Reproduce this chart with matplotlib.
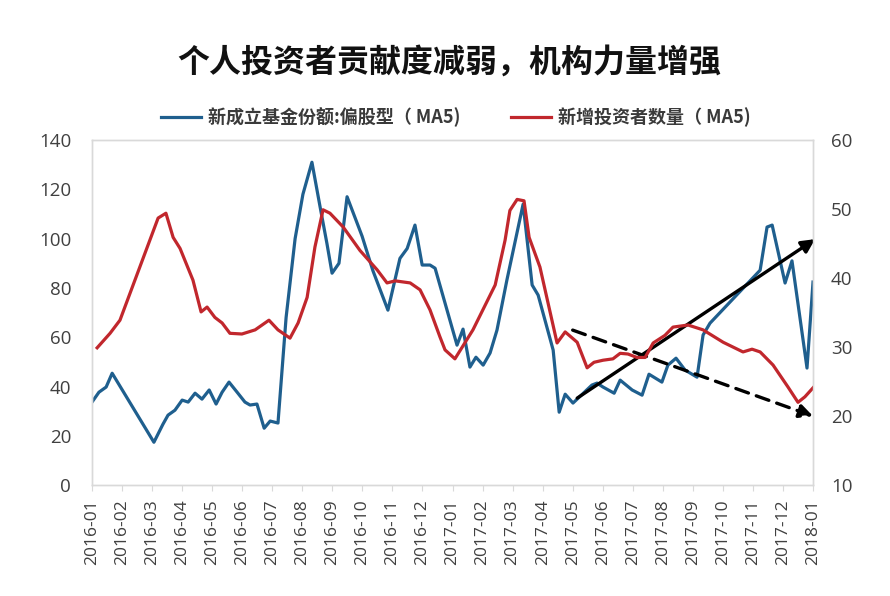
import matplotlib
matplotlib.use("Agg")
import matplotlib.pyplot as plt

plt.rcParams['font.family'] = ['Noto Sans CJK SC', 'DejaVu Sans']

title = "个人投资者贡献度减弱，机构力量增强"
blue_label = "新成立基金份额:偏股型（ MA5)"
red_label = "新增投资者数量（ MA5)"

month_labels = ["2016-01", "2016-02", "2016-03", "2016-04", "2016-05", "2016-06",
                "2016-07", "2016-08", "2016-09", "2016-10", "2016-11", "2016-12",
                "2017-01", "2017-02", "2017-03", "2017-04", "2017-05", "2017-06",
                "2017-07", "2017-08", "2017-09", "2017-10", "2017-11", "2017-12",
                "2018-01"]

# time in months since 2016-01 (fractional)
blue_t = [0.00, 0.23, 0.47, 0.67, 2.06, 2.36, 2.53, 2.76, 3.00, 3.20, 3.43, 3.66,
          3.90, 4.13, 4.33, 4.56, 4.83, 5.09, 5.26, 5.49, 5.73, 5.93, 6.19, 6.46,
          6.76, 7.02, 7.32, 7.59, 7.82, 7.99, 8.22, 8.49, 8.99, 9.35, 9.85, 10.25,
          10.49, 10.75, 10.99, 11.25, 11.42, 12.15, 12.35, 12.58, 12.78, 13.02,
          13.25, 13.48, 13.81, 14.35, 14.65, 14.85, 15.35, 15.55, 15.75, 16.01,
          16.64, 16.81, 17.01, 17.38, 17.58, 17.98, 18.31, 18.54, 18.97, 19.17,
          19.44, 19.74, 20.14, 20.34, 20.57, 22.24, 22.47, 22.64, 23.07, 23.30,
          23.80, 24.00]
blue_v = [33.7, 37.7, 39.8, 45.4, 17.4, 24.7, 28.4, 30.4, 34.5, 33.7, 37.3, 34.9,
          38.6, 32.9, 37.7, 41.8, 37.7, 33.7, 32.5, 32.9, 23.1, 26.0, 25.2, 68.0,
          100.0, 118.0, 131.0, 113.0, 98.0, 86.0, 90.0, 117.0, 101.0, 87.0, 71.0, 92.0,
          96.0, 105.5, 89.3, 89.3, 88.0, 56.8, 63.3, 47.9, 51.9, 48.7,
          53.6, 62.9, 83.2, 114.0, 81.2, 77.1, 54.8, 29.6, 36.9, 33.3,
          40.6, 41.4, 39.8, 37.3, 42.6, 38.6, 36.5, 45.0, 41.8, 48.7,
          51.5, 46.7, 43.8, 60.9, 65.7, 87.2, 104.7, 105.5, 82.0, 91.0,
          47.5, 82.4]

red_t = [0.17, 0.60, 0.93, 2.20, 2.46, 2.70, 2.93, 3.36, 3.63, 3.83, 4.09, 4.33,
         4.59, 4.99, 5.43, 5.89, 6.19, 6.59, 6.86, 7.16, 7.42, 7.69, 7.92, 8.36,
         8.92, 9.49, 9.82, 10.09, 10.59, 10.92, 11.25, 11.58, 11.75, 12.08, 12.68,
         13.42, 13.75, 13.91, 14.15, 14.38, 14.55, 14.91, 15.48, 15.75, 16.15,
         16.48, 16.71, 17.01, 17.34, 17.58, 17.84, 18.14, 18.41, 18.68, 19.07,
         19.34, 19.84, 20.34, 21.01, 21.67, 21.97, 22.24, 22.67, 23.17, 23.50,
         23.73, 24.00]
red_v = [29.9, 32.0, 33.9, 48.7, 49.4, 45.9, 44.3, 39.7, 35.1, 35.8, 34.3, 33.5,
         32.0, 31.9, 32.5, 33.9, 32.5, 31.3, 33.5, 37.2, 44.5, 49.9, 49.4, 47.4,
         44.0, 41.2, 39.3, 39.6, 39.3, 38.3, 35.4, 31.5, 29.6, 28.3, 32.5,
         39.0, 45.5, 49.8, 51.4, 51.2, 45.9, 41.6, 30.6, 32.2, 30.7,
         27.0, 27.8, 28.1, 28.3, 29.1, 29.0, 28.5, 28.5, 30.6, 31.7,
         32.9, 33.2, 32.5, 30.7, 29.3, 29.7, 29.3, 27.4, 24.2, 22.0,
         22.8, 24.1]

# trend arrows (month position, left-axis value)
up_arrow = [(16.15, 35.3), (24.07, 99.8)]
down_arrow = [(16.0, 62.9), (24.0, 28.0)]

blue_c = "#1F5F8E"
red_c = "#C1272D"
tick_c = "#404040"
spine_c = "#D9D9D9"
num_font = ['Open Sans', 'DejaVu Sans']

fig = plt.figure(figsize=(8.9, 5.96), dpi=100)
ax = fig.add_axes([0.1034, 0.186, 0.8101, 0.579])
ax2 = ax.twinx()

l1, = ax.plot(blue_t, blue_v, color=blue_c, lw=2.3, solid_joinstyle='round')
l2, = ax2.plot(red_t, red_v, color=red_c, lw=2.3, solid_joinstyle='round')

ax.set_xlim(0, 24)
ax.set_ylim(0, 140)
ax.set_yticks(range(0, 141, 20))
ax2.set_ylim(10, 60)
ax2.set_yticks(range(10, 61, 10))
ax.set_xticks(range(len(month_labels)))
ax.set_xticklabels(month_labels, rotation=90, fontsize=12.5, color=tick_c,
                   family=num_font)

for a in (ax, ax2):
    for s in a.spines.values():
        s.set_color(spine_c)
        s.set_linewidth(1.0)
for lab in ax.get_yticklabels() + ax2.get_yticklabels():
    lab.set_fontsize(13.5)
    lab.set_color(tick_c)
    lab.set_family(num_font)
ax.tick_params(axis='y', length=0, pad=15)
ax2.tick_params(axis='y', length=0, pad=13)
ax.tick_params(axis='x', length=4, color=spine_c, direction='out', pad=6)

ax.annotate("", xy=up_arrow[1], xytext=up_arrow[0],
            arrowprops=dict(arrowstyle='-|>', color='black', lw=2.4,
                            mutation_scale=20, shrinkA=0, shrinkB=0),
            annotation_clip=False)
ax.annotate("", xy=down_arrow[1], xytext=down_arrow[0],
            arrowprops=dict(arrowstyle='-|>', color='black', lw=2.4,
                            linestyle=(0, (4, 2.5)), mutation_scale=20,
                            shrinkA=0, shrinkB=0),
            annotation_clip=False)

fig.legend([l1, l2], [blue_label, red_label], loc='center',
           bbox_to_anchor=(0.512, 0.803), ncol=2, frameon=False,
           prop={'family': ['Noto Sans CJK SC', 'DejaVu Sans'], 'size': 13, 'weight': 'bold'},
           handlelength=2.2, columnspacing=2.8, handletextpad=0.4)
for t in fig.legends[0].get_texts():
    t.set_color('#3A3A3A')

fig.text(0.505, 0.895, title, ha='center', va='center', fontsize=23,
         fontweight='bold', color='#111111')

fig.savefig("out.png", dpi=100)
